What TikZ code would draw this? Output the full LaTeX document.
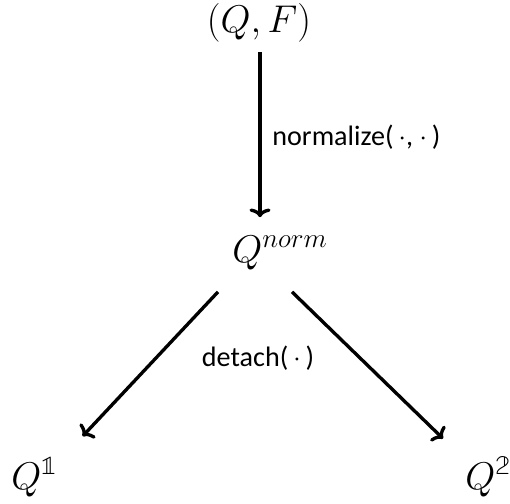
\documentclass[tikz,border=0pt]{standalone}
\usepackage{fix-cm}
\usepackage{amsmath}
\usepackage{fontspec}
\usepackage{tikz}
\usetikzlibrary{arrows.meta}
\newfontfamily\labelfont{Carlito}
\newfontfamily\bbfont{Latin Modern Math}
\newcommand{\bbdigit}[1]{\text{\bbfont\symbol{#1}}}
\tikzset{
  arr/.style={-{To[length=5pt,width=12pt]},line width=1.9pt},
  mathnode/.style={inner sep=0pt,font=\fontsize{22}{26}\selectfont},
  lbl/.style={inner sep=0pt,font=\fontsize{16}{19}\labelfont}
}
\begin{document}
\begin{tikzpicture}[x=1cm,y=1cm]
\useasboundingbox (0,0) rectangle (10.20,10.06);
\node[mathnode,anchor=base] (top) at (5.18,9.42) {$(Q,F)$};
\node[mathnode,anchor=base west] (norm) at (4.64,4.82) {$Q^{norm}$};
\node[mathnode,anchor=base west] (q1) at (0.22,0.28) {$Q^{\bbdigit{"1D7D9}}$};
\node[mathnode,anchor=base west] (q2) at (9.30,0.28) {$Q^{\bbdigit{"1D7DA}}$};
\draw[arr] ([xshift=0.02cm,yshift=-0.2cm]top.south) -- ([xshift=0.02cm,yshift=0.36cm]top.south |- norm.north);
\node[lbl,anchor=west] (n) at (5.44,7.32) {normalize(\,$\cdot$, $\cdot$\,)};
\draw[arr] ([xshift=-0.28cm,yshift=-0.44cm]norm.south west) -- ([xshift=0.5cm,yshift=0.42cm]q1.north east);
\draw[arr] ([xshift=1.2cm,yshift=-0.44cm]norm.south west) -- ([xshift=-0.44cm,yshift=0.36cm]q2.north west);
\node[lbl] (d) at (5.16,2.90) {detach(\,$\cdot$\,)};
\end{tikzpicture}
\end{document}
